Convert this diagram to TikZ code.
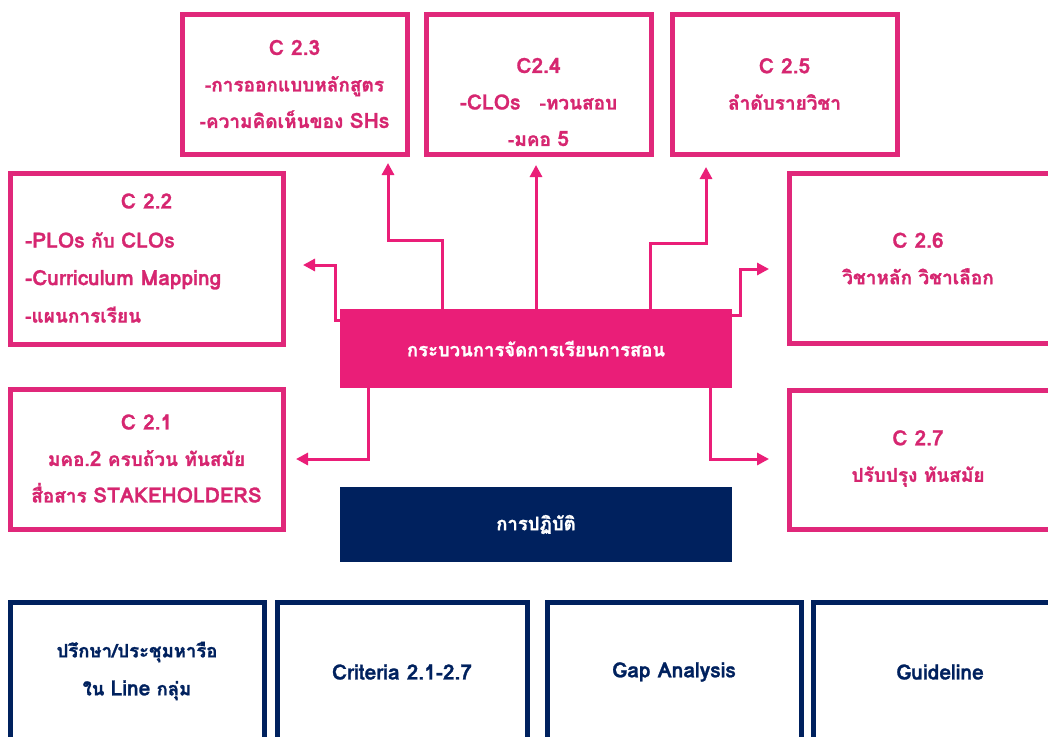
\documentclass[tikz,border=0pt]{standalone}
\usepackage{fontspec}
\setmainfont{Loma}[Script=Thai,BoldFeatures={FakeBold=1.2}]
\usetikzlibrary{arrows.meta}
\definecolor{pinkline}{RGB}{224,40,122}
\definecolor{pinkfill}{RGB}{234,30,120}
\definecolor{pinktext}{RGB}{214,38,112}
\definecolor{navy}{RGB}{0,33,94}
\newcommand\lat[1]{{\fontsize{21}{21}\selectfont #1}}
\tikzset{
  pbox/.style={draw=pinkline,line width=5pt,outer sep=0pt,inner sep=0pt,rectangle},
  nbox/.style={draw=navy,line width=5pt,outer sep=0pt,inner sep=0pt,rectangle},
  fbox/.style={outer sep=0pt,inner sep=0pt,rectangle},
  ptxt/.style={text=pinktext,font=\bfseries\fontsize{19}{36.5}\selectfont,align=center,inner sep=0pt},
  ltxt/.style={text=pinktext,font=\bfseries\fontsize{19}{37.5}\selectfont,align=left,inner sep=0pt,anchor=west},
  wtxt/.style={text=white,font=\bfseries\fontsize{18.5}{22}\selectfont,inner sep=0pt},
  ntxt/.style={text=navy,font=\bfseries\fontsize{18.5}{38}\selectfont,align=center,inner sep=0pt},
  arr/.style={draw=pinkfill,line width=3pt,-{Triangle[length=12pt,width=12pt]}}
}
\begin{document}
\begin{tikzpicture}[x=1pt,y=-1pt]
\clip (0,0) rectangle (1048,736);
\fill[white] (0,0) rectangle (1048,736);
% pink outline boxes
\node[pbox,minimum width=225pt,minimum height=140pt] (c23) at (294.5,84) {};
\node[pbox,minimum width=225pt,minimum height=140pt] (c24) at (538.5,84) {};
\node[pbox,minimum width=225pt,minimum height=140pt] (c25) at (784.5,84) {};
\node[pbox,minimum width=273pt,minimum height=171pt] (c22) at (146.5,258.5) {};
\node[pbox,minimum width=273pt,minimum height=140pt] (c21) at (146.5,459) {};
\node[pbox,minimum width=281pt,minimum height=170pt] (c26) at (929.5,258) {};
\node[pbox,minimum width=281pt,minimum height=139pt] (c27) at (929.5,459.5) {};
% filled boxes
\node[fbox,fill=pinkfill,minimum width=392pt,minimum height=79pt] (ctr) at (536,348.5) {};
\node[fbox,fill=navy,minimum width=392pt,minimum height=75pt] (prac) at (536,524.5) {};
% bottom navy boxes
\node[nbox,minimum width=254pt,minimum height=158pt] (b1) at (137,681) {};
\node[nbox,minimum width=250pt,minimum height=158pt] (b2) at (402,681) {};
\node[nbox,minimum width=254pt,minimum height=158pt] (b3) at (674,681) {};
\node[nbox,minimum width=257pt,minimum height=158pt] (b4) at (941.5,681) {};
% texts
\node[ptxt] (t23) at (294.5,84) {\lat{C 2.3}\\-การออกแบบหลักสูตร\\-ความคิดเห็นของ \lat{SHs}};
\node[ptxt] (t24) at (538.5,102) {\lat{C2.4}\\\lat{-CLOs}\quad -ทวนสอบ\\-มคอ \lat{5}};
\node[ptxt] (t25) at (784.5,84) {\lat{C 2.5}\\ลำดับรายวิชา};
\node[ptxt] (t22h) at (146.5,201) {\lat{C 2.2}};
\node[ltxt] (t22) at (25,277.5) {\lat{-PLOs} กับ \lat{CLOs}\\\lat{-Curriculum Mapping}\\-แผนการเรียน};
\node[ptxt] (t21) at (146.5,458.5) {\lat{C 2.1}\\มคอ.\lat{2} ครบถ้วน ทันสมัย\\สื่อสาร \lat{STAKEHOLDERS}};
\node[ptxt] (t26) at (918,258.5) {\lat{C 2.6}\\วิชาหลัก วิชาเลือก};
\node[ptxt] (t27) at (918,458.5) {\lat{C 2.7}\\ปรับปรุง ทันสมัย};
\node[wtxt] (tctr) at (ctr.center) {กระบวนการจัดการเรียนการสอน};
\node[wtxt] (tprac) at (prac.center) {การปฏิบัติ};
\node[ntxt] (tb1) at (137,671) {ปรึกษา/ประชุมหารือ\\ใน \lat{Line} กลุ่ม};
\node[ntxt] (tb2) at (402,672) {\lat{Criteria 2.1-2.7}};
\node[ntxt] (tb3) at (674,672) {\lat{Gap Analysis}};
\node[ntxt] (tb4) at (940,672) {\lat{Guideline}};
% connectors
\draw[arr,shorten >=9pt] (ctr.north -| 442,0) -- (442,240) -- (388,240) -- (c23.south -| 388,0);
\draw[arr,shorten >=11pt] (ctr.north) -- (c24.south -| ctr.north);
\draw[arr,shorten >=13pt] (ctr.north -| 650,0) -- (650,243) -- (706,243) -- (c25.south -| 706,0);
\draw[arr,shorten >=20pt] (ctr.west |- 0,320) -- (335,320) -- (335,265) -- (c22.east |- 0,265);
\draw[arr,shorten >=13pt] (ctr.south -| 368,0) -- (368,459) -- (c21.east |- 0,459);
\draw[arr,shorten >=20pt] (ctr.east |- 0,315) -- (740,315) -- (740,269) -- (c26.west |- 0,269);
\draw[arr,shorten >=20pt] (ctr.south -| 710,0) -- (710,459) -- (c27.west |- 0,459);
\end{tikzpicture}
\end{document}
